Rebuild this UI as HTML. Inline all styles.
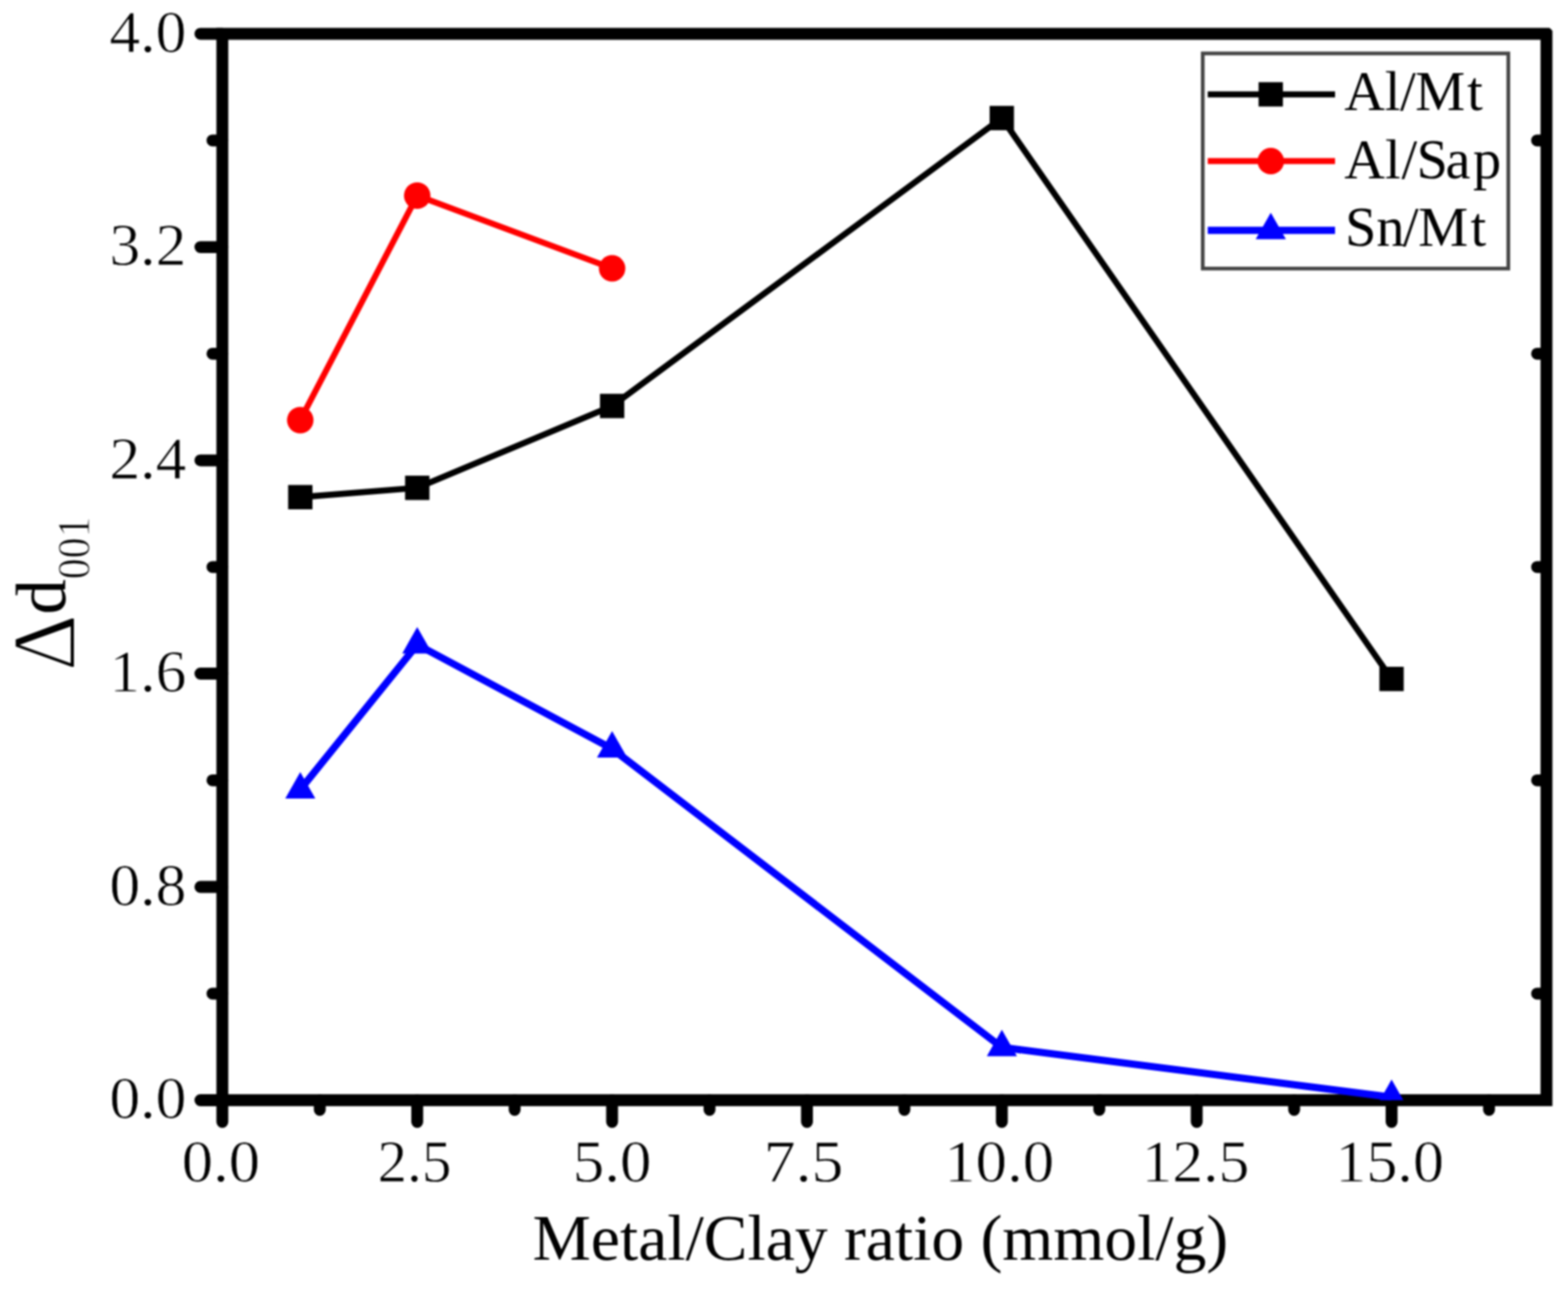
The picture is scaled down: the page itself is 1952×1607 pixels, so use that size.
<!DOCTYPE html><html><head><meta charset="utf-8"><style>html,body{margin:0;padding:0;background:#fff;}body{width:1952px;height:1607px;overflow:hidden;}svg{display:block;}#w{filter:blur(1px);width:1952px;height:1607px;}text{font-family:"Liberation Serif","Times New Roman",serif;fill:#000;}.tl{stroke:#fff;stroke-width:0.8px;fill:#000;}</style></head><body>
<div id="w"><svg width="1952" height="1607" viewBox="0 0 1952 1607">
<defs><clipPath id="pc"><rect x="276.8" y="42.1" width="1648.4" height="1327.4"/></clipPath></defs>
<rect width="1952" height="1607" fill="#fff"/>
<path d="M276.8 1369.5H249.5M276.8 1104.0H249.5M276.8 838.5H249.5M276.8 573.1H249.5M276.8 307.6H249.5M276.8 42.1H249.5M276.8 1236.8H264.5M1923.7 1236.8H1913.5M276.8 971.3H264.5M1923.7 971.3H1913.5M276.8 705.8H264.5M1923.7 705.8H1913.5M276.8 440.3H264.5M1923.7 440.3H1913.5M276.8 174.8H264.5M1923.7 174.8H1913.5M276.8 1369.5V1396.5M519.4 1369.5V1396.5M762.0 1369.5V1396.5M1004.6 1369.5V1396.5M1247.2 1369.5V1396.5M1489.8 1369.5V1396.5M1732.4 1369.5V1396.5M398.1 1369.5V1381.5M640.7 1369.5V1381.5M883.3 1369.5V1381.5M1125.9 1369.5V1381.5M1368.5 1369.5V1381.5M1611.1 1369.5V1381.5M1853.7 1369.5V1381.5" stroke="#000" stroke-width="14.8" stroke-linecap="round" fill="none"/>
<rect x="276.8" y="42.1" width="1648.4" height="1327.4" fill="none" stroke="#000" stroke-width="14.8"/>
<path d="M1928.1 33.7L1933.6 33.7L1933.6 39.2Z" fill="#fff"/>
<text class="tl" x="232.0" y="1367.0" font-size="74" text-anchor="end" dominant-baseline="central" textLength="95.7" lengthAdjust="spacingAndGlyphs">0.0</text>
<text class="tl" x="232.0" y="1101.5" font-size="74" text-anchor="end" dominant-baseline="central" textLength="95.7" lengthAdjust="spacingAndGlyphs">0.8</text>
<text class="tl" x="232.0" y="836.0" font-size="74" text-anchor="end" dominant-baseline="central" textLength="95.7" lengthAdjust="spacingAndGlyphs">1.6</text>
<text class="tl" x="232.0" y="570.6" font-size="74" text-anchor="end" dominant-baseline="central" textLength="95.7" lengthAdjust="spacingAndGlyphs">2.4</text>
<text class="tl" x="232.0" y="305.1" font-size="74" text-anchor="end" dominant-baseline="central" textLength="95.7" lengthAdjust="spacingAndGlyphs">3.2</text>
<text class="tl" x="232.0" y="39.6" font-size="74" text-anchor="end" dominant-baseline="central" textLength="95.7" lengthAdjust="spacingAndGlyphs">4.0</text>
<text class="tl" x="275.0" y="1471.0" font-size="74" text-anchor="middle" textLength="97.5" lengthAdjust="spacingAndGlyphs">0.0</text>
<text class="tl" x="516.0" y="1471.0" font-size="74" text-anchor="middle" textLength="91.9" lengthAdjust="spacingAndGlyphs">2.5</text>
<text class="tl" x="762.0" y="1471.0" font-size="74" text-anchor="middle" textLength="98.2" lengthAdjust="spacingAndGlyphs">5.0</text>
<text class="tl" x="1000.4" y="1471.0" font-size="74" text-anchor="middle" textLength="99.2" lengthAdjust="spacingAndGlyphs">7.5</text>
<text class="tl" x="1243.9" y="1471.0" font-size="74" text-anchor="middle" textLength="136.8" lengthAdjust="spacingAndGlyphs">10.0</text>
<text class="tl" x="1488.3" y="1471.0" font-size="74" text-anchor="middle" textLength="134.0" lengthAdjust="spacingAndGlyphs">12.5</text>
<text class="tl" x="1729.9" y="1471.0" font-size="74" text-anchor="middle" textLength="135.3" lengthAdjust="spacingAndGlyphs">15.0</text>
<text x="1096.0" y="1568.0" font-size="80" text-anchor="middle" textLength="866" lengthAdjust="spacingAndGlyphs">Metal/Clay ratio (mmol/g)</text>
<g transform="translate(92.8,835) rotate(-90) scale(0.964,1)"><text x="0" y="0" font-size="113" style="stroke:#fff;stroke-width:2px">&#916;</text></g>
<g transform="translate(81.4,765) rotate(-90)"><text x="0" y="0" font-size="88">d</text></g>
<g transform="translate(111.3,721) rotate(-90) scale(0.93,1)"><text x="0" y="0" font-size="56" style="stroke:#fff;stroke-width:1px">001</text></g>
<g clip-path="url(#pc)">
<polyline points="373.8,618.9 519.4,607.2 762.0,505.4 1247.2,147.0 1732.4,845.2" fill="none" stroke="#000" stroke-width="7.6" stroke-linejoin="miter"/>
<rect x="358.7" y="603.7" width="30.3" height="30.3" fill="#000"/>
<rect x="504.3" y="592.1" width="30.3" height="30.3" fill="#000"/>
<rect x="746.9" y="490.2" width="30.3" height="30.3" fill="#000"/>
<rect x="1232.0" y="131.8" width="30.3" height="30.3" fill="#000"/>
<rect x="1717.2" y="830.0" width="30.3" height="30.3" fill="#000"/>
<polyline points="373.8,523.0 519.4,243.5 762.0,334.1" fill="none" stroke="#ff0000" stroke-width="7.5" stroke-linejoin="miter"/>
<circle cx="373.8" cy="523.0" r="16.5" fill="#ff0000"/>
<circle cx="519.4" cy="243.5" r="16.5" fill="#ff0000"/>
<circle cx="762.0" cy="334.1" r="16.5" fill="#ff0000"/>
<polyline points="373.8,982.9 519.4,802.4 762.0,932.1 1247.2,1303.8 1732.4,1365.8" fill="none" stroke="#0000ff" stroke-width="9.0" stroke-linejoin="miter"/>
<path d="M373.8 960.9L392.6 993.9L355.1 993.9Z" fill="#0000ff"/>
<path d="M519.4 780.4L538.2 813.4L500.7 813.4Z" fill="#0000ff"/>
<path d="M762.0 910.1L780.8 943.1L743.2 943.1Z" fill="#0000ff"/>
<path d="M1247.2 1281.8L1266.0 1314.8L1228.5 1314.8Z" fill="#0000ff"/>
<path d="M1732.4 1343.8L1751.2 1376.8L1713.7 1376.8Z" fill="#0000ff"/>
</g>
<rect x="1497.3" y="66.5" width="380.4" height="267.8" fill="none" stroke="#444" stroke-width="4.6"/>
<line x1="1503.5" y1="117.5" x2="1662" y2="117.5" stroke="#000" stroke-width="7.6"/>
<rect x="1566.8" y="102.3" width="30.3" height="30.3" fill="#000"/>
<line x1="1503.5" y1="200.6" x2="1662" y2="200.6" stroke="#ff0000" stroke-width="7.5"/>
<circle cx="1582.0" cy="200.6" r="16.5" fill="#ff0000"/>
<line x1="1503.5" y1="286.7" x2="1662" y2="286.7" stroke="#0000ff" stroke-width="9.0"/>
<path d="M1582.0 264.7L1600.8 297.7L1563.2 297.7Z" fill="#0000ff"/>
<text x="1676" y="136.5" dx="-2.6 0.1 -0.6 -0.6 2.6" font-size="70">Al/Mt</text>
<text x="1676" y="222.1" dx="-2.6 0.4 0.9 -0.6 -2.9 3.1" font-size="70">Al/Sap</text>
<text x="1676" y="305.5" dx="-1.6 0.2 -2.0 -0.5 3.1" font-size="70">Sn/Mt</text>
</svg></div></body></html>
